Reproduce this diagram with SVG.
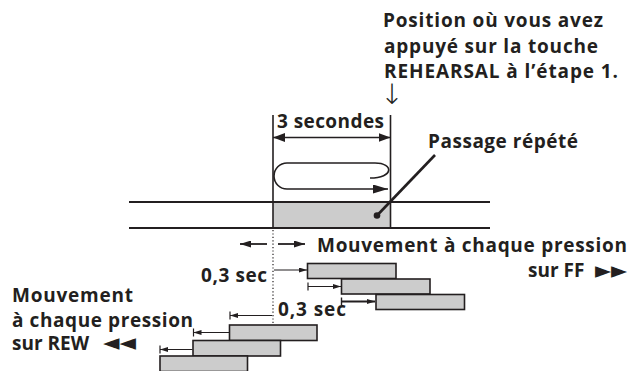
<svg xmlns="http://www.w3.org/2000/svg" width="631" height="371" viewBox="0 0 631 371">
<defs>
<style>
.t{font-family:"Open Sans","Liberation Sans",sans-serif;font-weight:700;font-size:19px;fill:#231f20}
.sym{font-family:"DejaVu Sans",sans-serif;font-weight:normal}
.ln{stroke:#231f20;fill:none}
.bar{fill:#cccccc;stroke:#231f20;stroke-width:1.6}
</style>
<marker id="ahBig" viewBox="0 0 12 9" refX="12" refY="4.5" markerWidth="12" markerHeight="9" markerUnits="userSpaceOnUse" orient="auto-start-reverse"><path d="M0,0 L12,4.5 L0,9 z" fill="#231f20"/></marker>
<marker id="ahLoop" viewBox="0 0 15 9" refX="15" refY="4.5" markerWidth="15" markerHeight="9" markerUnits="userSpaceOnUse" orient="auto"><path d="M0,0 L15,4.5 L0,9 z" fill="#231f20"/></marker>
<marker id="ahMid" viewBox="0 0 11 7" refX="11" refY="3.5" markerWidth="11" markerHeight="7" markerUnits="userSpaceOnUse" orient="auto"><path d="M0,0 L11,3.5 L0,7 z" fill="#231f20"/></marker>
<marker id="ahSm" viewBox="0 0 8 5" refX="8" refY="2.5" markerWidth="8" markerHeight="5" markerUnits="userSpaceOnUse" orient="auto"><path d="M0,0 L8,2.5 L0,5 z" fill="#231f20"/></marker>
</defs>
<rect width="631" height="371" fill="#ffffff"/>

<g id="track">
<rect x="273" y="202" width="117" height="26" fill="#cccccc"/>
<line class="ln" x1="129" y1="202" x2="490" y2="202" stroke-width="2"/>
<line class="ln" x1="129" y1="228" x2="490" y2="228" stroke-width="2"/>
<line class="ln" x1="273" y1="115" x2="273" y2="228" stroke-width="1.6"/>
<line class="ln" x1="390.5" y1="115" x2="390.5" y2="228" stroke-width="1.6"/>
</g>

<g id="bars-ff">
<rect class="bar" x="307.5" y="263.5" width="88.5" height="15"/>
<rect class="bar" x="341.5" y="279" width="88.5" height="15"/>
<rect class="bar" x="376" y="294.5" width="88.5" height="15"/>
</g>
<g id="bars-rew">
<rect class="bar" x="229.5" y="325" width="87.5" height="15.5"/>
<rect class="bar" x="193" y="340.5" width="87.5" height="15.5"/>
<rect class="bar" x="160" y="356" width="87.5" height="15.5"/>
</g>

<g id="connectors">
<line class="ln" x1="273" y1="137.5" x2="390.5" y2="137.5" stroke-width="1.6" marker-start="url(#ahBig)" marker-end="url(#ahBig)"/>
<path class="ln" d="M370,178 C394,178 394,163 375,163 L287,163 A13,13 0 0 0 287,189 L388,189" stroke-width="1.6" marker-end="url(#ahLoop)"/>
<line class="ln" x1="435" y1="155" x2="377" y2="215.5" stroke-width="2.6"/>
<circle cx="377" cy="215.5" r="3.3" fill="#231f20"/>
<line class="ln" x1="273" y1="230" x2="273" y2="323" stroke-width="1.2" stroke-dasharray="1.2,2.2"/>
<line class="ln" x1="267" y1="244" x2="240" y2="244" stroke-width="1.8" marker-end="url(#ahMid)"/>
<line class="ln" x1="278" y1="244" x2="305" y2="244" stroke-width="1.8" marker-end="url(#ahMid)"/>
<line class="ln" x1="274" y1="270" x2="307" y2="270" stroke-width="1.2" marker-end="url(#ahSm)"/>
<line class="ln" x1="308" y1="286.5" x2="341" y2="286.5" stroke-width="1.2" marker-end="url(#ahSm)"/>
<line class="ln" x1="308" y1="282.5" x2="308" y2="290.5" stroke-width="1.2"/>
<line class="ln" x1="341.5" y1="301.5" x2="375" y2="301.5" stroke-width="1.8" marker-end="url(#ahSm)"/>
<line class="ln" x1="341.5" y1="297.5" x2="341.5" y2="305.5" stroke-width="1.4"/>
<line class="ln" x1="272" y1="315.5" x2="230" y2="315.5" stroke-width="1.2" marker-end="url(#ahSm)"/>
<line class="ln" x1="230" y1="311.5" x2="230" y2="319.5" stroke-width="1.2"/>
<line class="ln" x1="229" y1="332.5" x2="193.5" y2="332.5" stroke-width="1.2" marker-end="url(#ahSm)"/>
<line class="ln" x1="193.5" y1="328.5" x2="193.5" y2="336.5" stroke-width="1.2"/>
<line class="ln" x1="192.5" y1="349.5" x2="160" y2="349.5" stroke-width="1.2" marker-end="url(#ahSm)"/>
<line class="ln" x1="160" y1="345.5" x2="160" y2="353.5" stroke-width="1.2"/>
</g>

<g id="label-position">
<text class="t" x="383" y="27" textLength="220">Position où vous avez</text>
<text class="t" x="384" y="52.5" textLength="214">appuyé sur la touche</text>
<text class="t" x="384" y="78" textLength="234">REHEARSAL à l’étape 1.</text>
<text x="392" y="103.5" text-anchor="middle" style="font-family:'DejaVu Sans',sans-serif;font-weight:200;font-size:28px;fill:#231f20">↓</text>
</g>
<g id="label-3sec"><text class="t" x="277" y="128" textLength="107">3 secondes</text></g>
<g id="label-passage"><text class="t" x="428" y="148" textLength="150">Passage répété</text></g>
<g id="label-ff">
<text class="t" x="317" y="252" textLength="310">Mouvement à chaque pression</text>
<text class="t" x="528" y="277">sur FF <tspan class="sym" x="595" y="277.5" font-size="23" textLength="32" lengthAdjust="spacingAndGlyphs">►►</tspan></text>
</g>
<g id="label-03a"><text class="t" x="201" y="282" textLength="66">0,3 sec</text></g>
<g id="label-03b"><text class="t" x="278" y="316" textLength="68">0,3 sec</text></g>
<g id="label-rew">
<text class="t" x="12" y="302" textLength="121">Mouvement</text>
<text class="t" x="12" y="327" textLength="181">à chaque pression</text>
<text class="t" x="12" y="349.5">sur REW <tspan class="sym" x="103" y="349.5" font-size="23" textLength="33" lengthAdjust="spacingAndGlyphs">◄◄</tspan></text>
</g>
</svg>
